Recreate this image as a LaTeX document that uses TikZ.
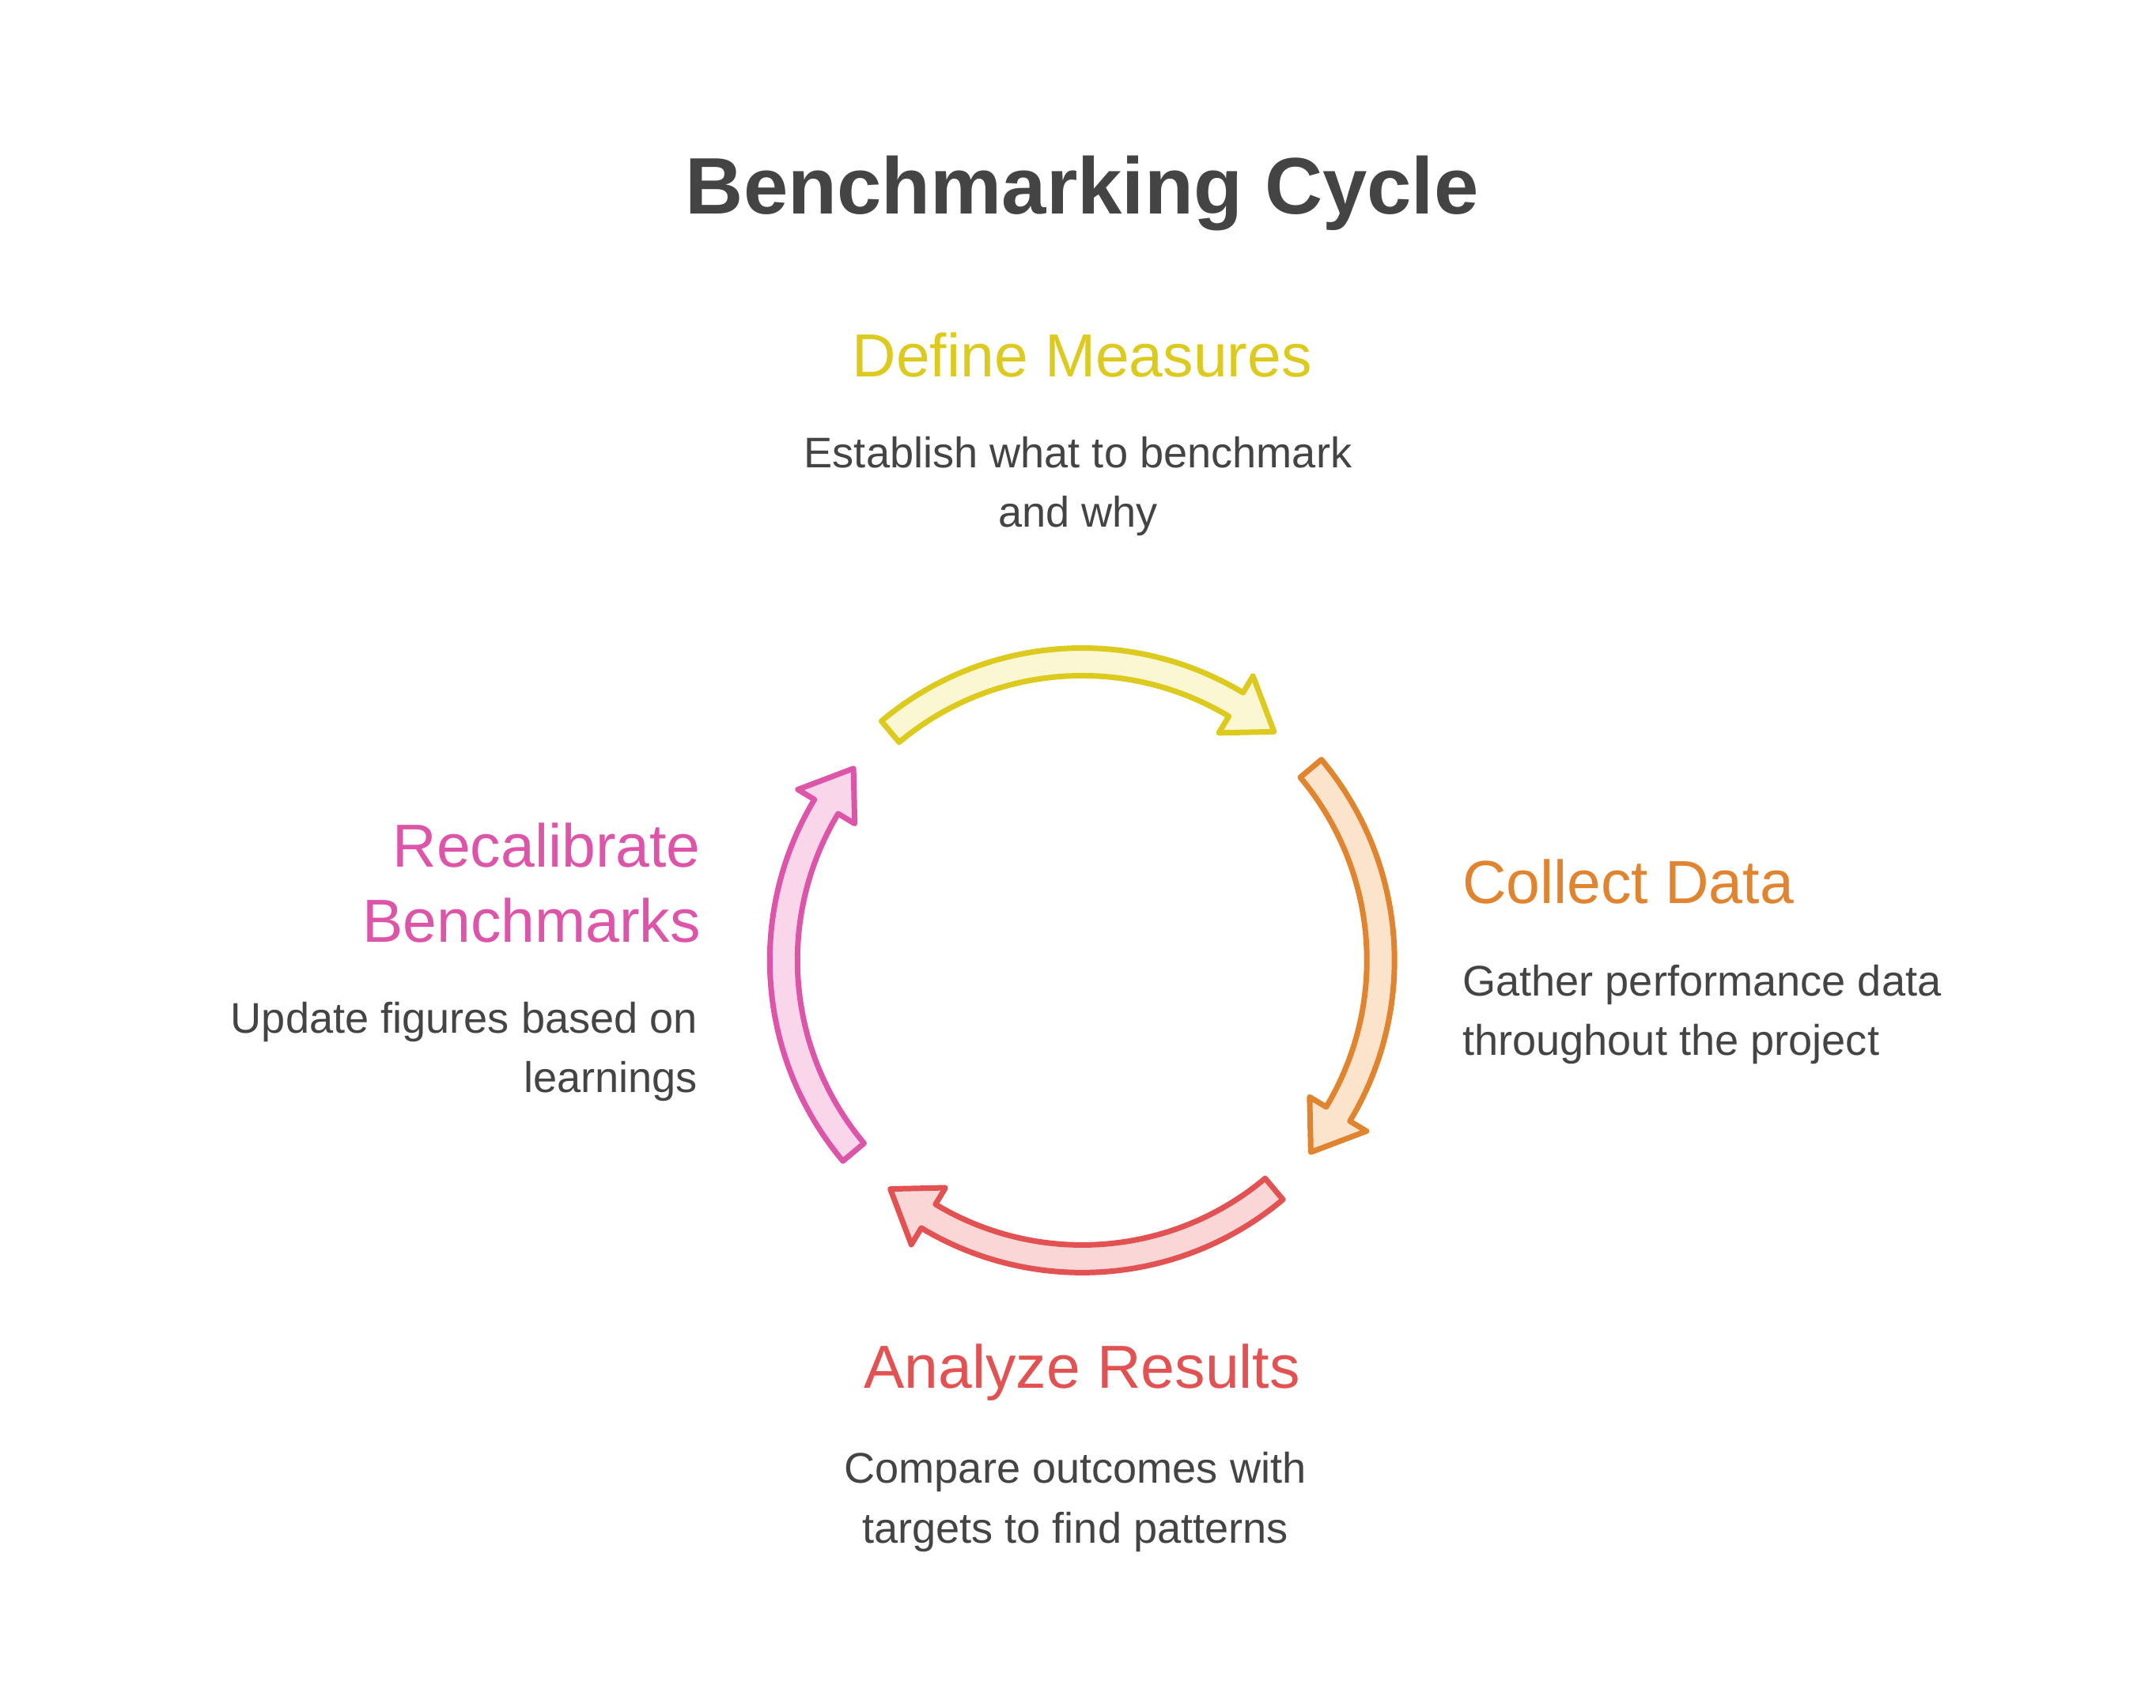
\documentclass[tikz,border=0pt]{standalone}
\usepackage{fontspec}
\setmainfont{Liberation Sans}
\definecolor{ylw}{HTML}{DCCB1E}\definecolor{ylwf}{HTML}{FBF7D2}
\definecolor{org}{HTML}{E0842F}\definecolor{orgf}{HTML}{FBE3CC}
\definecolor{rd}{HTML}{E35252}\definecolor{rdf}{HTML}{FBD6D6}
\definecolor{pnk}{HTML}{DD55A8}\definecolor{pnkf}{HTML}{F9D6EA}
\definecolor{body}{HTML}{444444}
\newcommand{\cyarrow}[4]{% start, end, stroke, fill
  \pgfmathsetmacro{\hb}{#2+9}
  \draw[line width=4, line join=round, draw=#3, fill=#4]
    (#1:226) arc[start angle=#1, end angle=\hb, radius=226]
    -- (\hb:240) -- (#2:216) -- (\hb:192) -- (\hb:206)
    arc[start angle=\hb, end angle=#1, radius=206] -- cycle;}
\tikzset{
  ttl/.style={font=\fontsize{44}{50}\selectfont},
  bd/.style={font=\fontsize{31}{43}\selectfont, text=body, inner sep=0}
}
\begin{document}
\begin{tikzpicture}[x=1pt,y=1pt]
\useasboundingbox[fill=white] (0,0) rectangle (1560,1236);
\node[font=\fontsize{58}{64}\selectfont\bfseries, text=body] (title) at (783,1096) {Benchmarking Cycle};
\begin{scope}[shift={(783,541)}]
  \cyarrow{130}{50}{ylw}{ylwf}
  \cyarrow{40}{-40}{org}{orgf}
  \cyarrow{-50}{-130}{rd}{rdf}
  \cyarrow{-140}{-220}{pnk}{pnkf}
\end{scope}
\node[ttl, text=ylw] (t1) at (783,979) {Define Measures};
\node[bd, align=center] (b1) at (780,884) {Establish what to benchmark\\and why};
\node[ttl, text=org, anchor=west, inner sep=0] (t2) at (1058,598) {Collect Data};
\node[bd, align=left, anchor=west] (b2) at (1058,502) {Gather performance data\\throughout the project};
\node[ttl, text=rd] (t3) at (783,243) {Analyze Results};
\node[bd, align=center] (b3) at (778,149) {Compare outcomes with\\targets to find patterns};
\node[ttl, text=pnk, anchor=east, inner sep=0, align=right, font=\fontsize{44}{54}\selectfont] (t4) at (507,597) {Recalibrate\\Benchmarks};
\node[bd, align=right, anchor=east] (b4) at (505,475) {Update figures based on\\learnings};
\end{tikzpicture}
\end{document}
